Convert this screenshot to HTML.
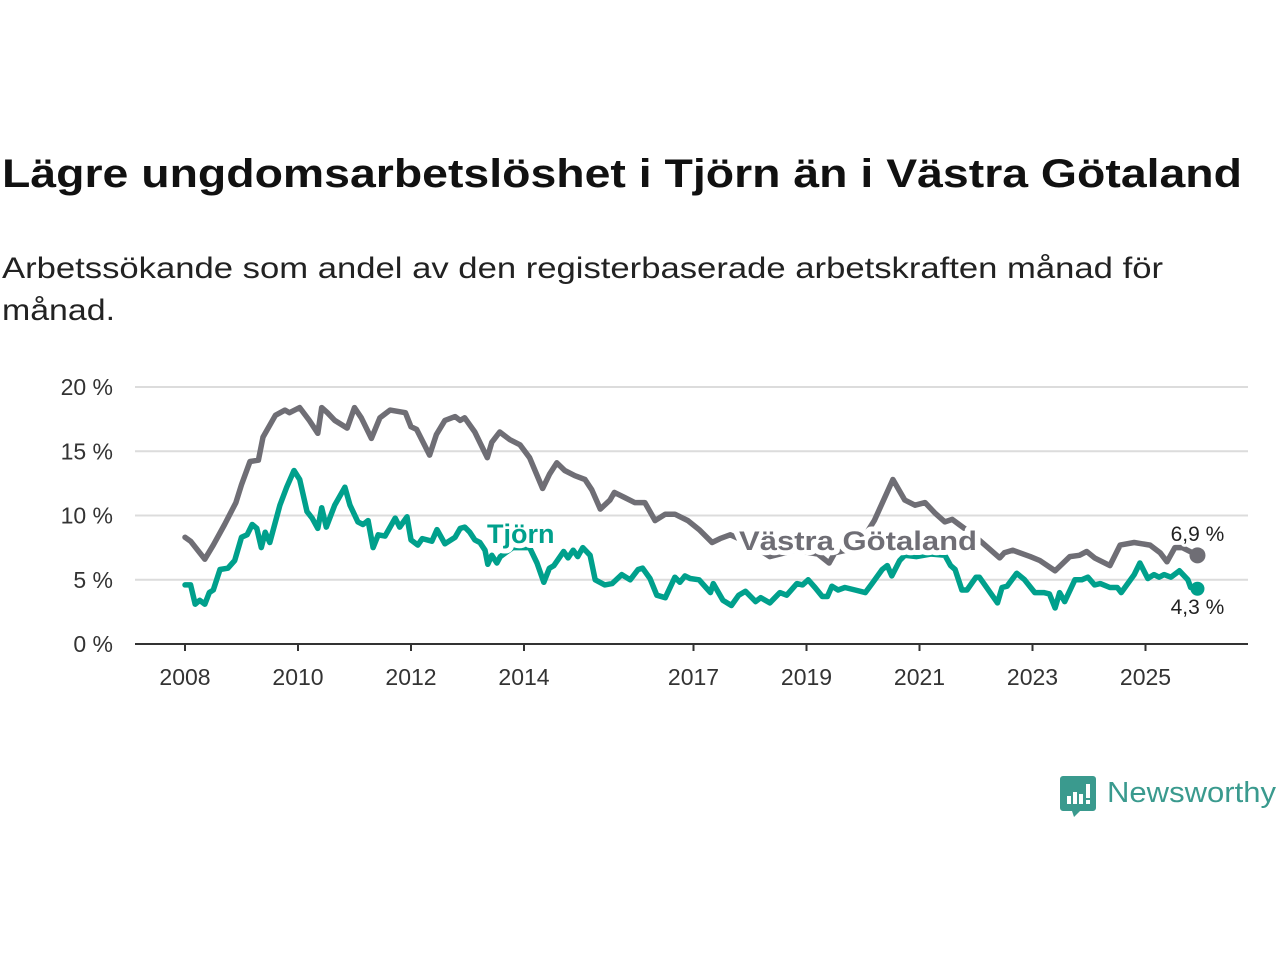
<!DOCTYPE html>
<html><head><meta charset="utf-8">
<style>
html,body{margin:0;padding:0;background:#fff;}
svg{display:block;font-family:"Liberation Sans",sans-serif;}
</style></head>
<body>
<svg id="chart" width="1280" height="960" viewBox="0 0 1280 960" xmlns="http://www.w3.org/2000/svg">
<text x="2" y="187" font-size="40" font-weight="bold" fill="#111" textLength="1240" lengthAdjust="spacingAndGlyphs">Lägre ungdomsarbetslöshet i Tjörn än i Västra Götaland</text>
<text x="2" y="278" font-size="30" fill="#222" textLength="1161" lengthAdjust="spacingAndGlyphs">Arbetssökande som andel av den registerbaserade arbetskraften månad för</text>
<text x="2" y="320" font-size="30" fill="#222" textLength="113" lengthAdjust="spacingAndGlyphs">månad.</text>
<g id="grid"></g>
<g id="series"></g>
<g id="labels"></g>
<g>
<path d="M1063,776 h30 a3,3 0 0 1 3,3 v29 a3,3 0 0 1 -3,3 h-13 l-6,6 l-2,-6 h-9 a3,3 0 0 1 -3,-3 v-29 a3,3 0 0 1 3,-3z" fill="#3a9a8e"/>
<rect x="1067" y="796" width="4" height="8" fill="#fff"/>
<rect x="1073" y="792" width="4" height="12" fill="#fff"/>
<rect x="1079" y="794" width="4" height="10" fill="#fff"/>
<rect x="1086" y="784" width="4" height="14" fill="#fff"/>
<rect x="1086" y="800" width="4" height="4" fill="#fff"/>
<text x="1107" y="802" font-size="29" fill="#3a9a8e" textLength="169" lengthAdjust="spacingAndGlyphs">Newsworthy</text>
</g>
</svg>
<script>
const yTicks = [0, 5, 10, 15, 20];
const yTickLabels = ["0 %", "5 %", "10 %", "15 %", "20 %"];
const xTicks = [2008, 2010, 2012, 2014, 2017, 2019, 2021, 2023, 2025];
const vgDates = [2008.0,2008.1,2008.35,2008.5,2008.7,2008.9,2009.0,2009.15,2009.3,2009.38,2009.6,2009.77,2009.85,2010.03,2010.2,2010.35,2010.42,2010.52,2010.65,2010.87,2011.0,2011.12,2011.3,2011.45,2011.63,2011.9,2012.0,2012.1,2012.33,2012.45,2012.6,2012.78,2012.87,2012.95,2013.13,2013.35,2013.43,2013.57,2013.75,2013.93,2014.1,2014.33,2014.45,2014.58,2014.72,2014.9,2015.08,2015.2,2015.35,2015.52,2015.6,2015.78,2015.96,2016.14,2016.32,2016.5,2016.67,2016.9,2017.1,2017.33,2017.47,2017.65,2018.0,2018.35,2018.8,2019.2,2019.4,2019.5,2019.9,2020.2,2020.53,2020.74,2020.92,2021.1,2021.27,2021.45,2021.58,2021.7,2021.95,2022.16,2022.42,2022.5,2022.65,2022.96,2023.13,2023.4,2023.66,2023.83,2023.96,2024.1,2024.37,2024.55,2024.8,2025.08,2025.26,2025.38,2025.52,2025.65,2025.92];
const vgValues = [8.3,8.0,6.6,7.7,9.3,11.0,12.4,14.2,14.3,16.1,17.8,18.2,18.0,18.4,17.4,16.4,18.4,18.0,17.4,16.8,18.4,17.6,16.0,17.6,18.2,18.0,16.9,16.7,14.7,16.3,17.4,17.7,17.4,17.6,16.5,14.5,15.7,16.5,15.9,15.5,14.5,12.1,13.2,14.1,13.5,13.1,12.8,12.0,10.5,11.2,11.8,11.4,11.0,11.0,9.6,10.1,10.1,9.6,8.9,7.9,8.2,8.5,7.8,6.8,7.3,7.0,6.3,7.1,7.5,9.6,12.8,11.2,10.8,11.0,10.2,9.5,9.7,9.3,8.5,7.7,6.7,7.1,7.3,6.8,6.5,5.7,6.8,6.9,7.2,6.7,6.1,7.7,7.9,7.7,7.1,6.4,7.5,7.5,6.9];
const tjDates = [2008.0,2008.1,2008.18,2008.26,2008.35,2008.43,2008.5,2008.62,2008.76,2008.88,2009.0,2009.1,2009.19,2009.27,2009.35,2009.42,2009.5,2009.68,2009.8,2009.93,2010.03,2010.16,2010.25,2010.35,2010.42,2010.5,2010.65,2010.83,2010.92,2011.06,2011.15,2011.24,2011.33,2011.42,2011.54,2011.72,2011.8,2011.93,2012.0,2012.12,2012.2,2012.37,2012.46,2012.6,2012.78,2012.87,2012.95,2013.04,2013.13,2013.22,2013.31,2013.36,2013.43,2013.52,2013.58,2013.8,2014.1,2014.23,2014.35,2014.45,2014.53,2014.7,2014.78,2014.87,2014.95,2015.04,2015.17,2015.26,2015.43,2015.56,2015.73,2015.88,2016.02,2016.1,2016.23,2016.35,2016.5,2016.67,2016.76,2016.85,2016.94,2017.1,2017.22,2017.3,2017.35,2017.52,2017.67,2017.8,2017.92,2018.1,2018.19,2018.35,2018.53,2018.65,2018.83,2018.93,2019.03,2019.15,2019.28,2019.37,2019.45,2019.56,2019.68,2019.86,2020.04,2020.16,2020.34,2020.43,2020.51,2020.65,2020.74,2020.95,2021.2,2021.45,2021.55,2021.63,2021.75,2021.84,2022.0,2022.06,2022.38,2022.46,2022.55,2022.72,2022.86,2023.04,2023.2,2023.3,2023.4,2023.48,2023.57,2023.75,2023.87,2023.98,2024.1,2024.2,2024.37,2024.5,2024.57,2024.8,2024.9,2025.04,2025.15,2025.24,2025.33,2025.45,2025.6,2025.75,2025.8,2025.92];
const tjValues = [4.6,4.6,3.1,3.4,3.1,4.0,4.2,5.8,5.9,6.5,8.3,8.5,9.3,9.0,7.5,8.7,7.9,10.8,12.2,13.5,12.8,10.3,9.8,9.0,10.6,9.1,10.8,12.2,10.8,9.5,9.3,9.6,7.5,8.5,8.4,9.8,9.1,9.9,8.1,7.7,8.2,8.0,8.9,7.8,8.3,9.0,9.1,8.7,8.1,7.9,7.3,6.2,6.9,6.3,6.8,7.5,7.5,6.3,4.8,5.9,6.1,7.2,6.7,7.3,6.8,7.5,6.9,5.0,4.6,4.7,5.4,5.0,5.8,5.9,5.1,3.8,3.6,5.2,4.8,5.3,5.1,5.0,4.4,4.0,4.7,3.4,3.0,3.8,4.1,3.3,3.6,3.2,4.0,3.8,4.7,4.6,5.0,4.4,3.7,3.7,4.5,4.2,4.4,4.2,4.0,4.7,5.8,6.1,5.3,6.5,6.9,6.8,7.0,6.9,6.1,5.8,4.2,4.2,5.2,5.2,3.2,4.4,4.5,5.5,5.0,4.0,4.0,3.9,2.8,4.0,3.3,5.0,5.0,5.2,4.6,4.7,4.4,4.4,4.0,5.4,6.3,5.1,5.4,5.2,5.4,5.2,5.7,5.0,4.4,4.3];

const NS = "http://www.w3.org/2000/svg";
const X0 = 135, X1 = 1248, Y0 = 644;
function xScale(yr){ return 185 + (yr - 2008) * 56.5; }
function yScale(v){ return Y0 - v * 12.85; }
function mk(tag, attrs, parent){ const e = document.createElementNS(NS, tag); for (const k in attrs) e.setAttribute(k, attrs[k]); parent.appendChild(e); return e; }

const grid = document.getElementById('grid');
yTicks.forEach((t, i) => {
  if (t > 0) {
    const l = mk('line', {x1:X0, x2:X1, y1:yScale(t), y2:yScale(t), stroke:'#dcdcdc', 'stroke-width':2}, grid);
    
    
  }
  const tx = mk('text', {x:113, y:yScale(t)+8, 'text-anchor':'end', 'font-size':23, fill:'#333'}, grid);
  tx.textContent = yTickLabels[i];
  
  
});
const ax = mk('line', {x1:X0, x2:X1, y1:Y0, y2:Y0, stroke:'#333', 'stroke-width':2}, grid);


xTicks.forEach(t => {
  const tk = mk('line', {x1:xScale(t), x2:xScale(t), y1:Y0, y2:Y0+7, stroke:'#333', 'stroke-width':2}, grid);
  
  
  const tx = mk('text', {x:xScale(t), y:685, 'text-anchor':'middle', 'font-size':23, fill:'#333'}, grid);
  tx.textContent = String(t);
  
  
});

const series = document.getElementById('series');
function line(dates, vals, color, name){
  const d = dates.map((t, i) => (i ? 'L' : 'M') + xScale(t).toFixed(1) + ',' + yScale(vals[i]).toFixed(1)).join('');
  const p = mk('path', {d:d, fill:'none', stroke:color, 'stroke-width':5.5, 'stroke-linejoin':'round', 'stroke-linecap':'round'}, series);
  
  
}
const GRAY = '#6f6e75', TEAL = '#00a08c';
line(vgDates, vgValues, GRAY, 'vastra-gotaland-line');
line(tjDates, tjValues, TEAL, 'tjorn-line');

const labels = document.getElementById('labels');
const vgLast = vgValues.length - 1, tjLast = tjValues.length - 1;
const d1 = mk('circle', {cx:xScale(vgDates[vgLast]), cy:yScale(vgValues[vgLast]), r:8, fill:GRAY}, labels);


const d2 = mk('circle', {cx:xScale(tjDates[tjLast]), cy:yScale(tjValues[tjLast]), r:7, fill:TEAL}, labels);



function label(txt, x, y, size, color, bold, name, anchor){
  const t = mk('text', {x:x, y:y, 'font-size':size, fill:color, 'font-weight':bold?'bold':'normal', stroke:'#fff', 'stroke-width':bold?10:6, 'paint-order':'stroke', 'stroke-linejoin':'round', 'text-anchor':anchor||'start'}, labels);
  t.textContent = txt;
  
  
  return t;
}
label('Tjörn', 487, 543, 27, TEAL, true, 'tjorn-series-label');
const vl = label('Västra Götaland', 739, 550, 27, GRAY, true, 'vastra-gotaland-series-label');
vl.setAttribute('textLength', '238');
vl.setAttribute('lengthAdjust', 'spacingAndGlyphs');
label(String(vgValues[vgLast]).replace('.', ',') + ' %', xScale(vgDates[vgLast]), 541, 21, '#222', false, 'vastra-gotaland-end-value', 'middle');
label(String(tjValues[tjLast]).replace('.', ',') + ' %', xScale(tjDates[tjLast]), 614, 21, '#222', false, 'tjorn-end-value', 'middle');
</script>
</body></html>
